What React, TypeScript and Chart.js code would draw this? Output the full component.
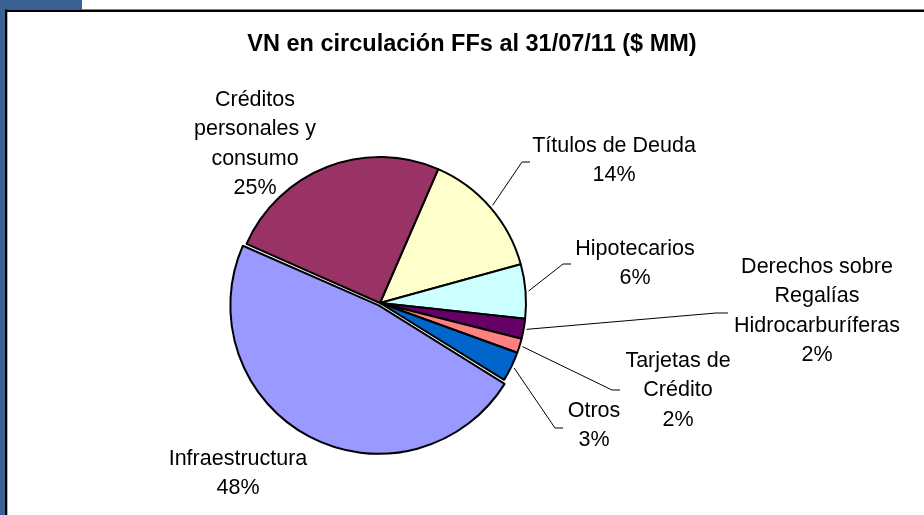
import React, { useEffect, useRef } from "react";
import { Chart, registerables } from "chart.js";

Chart.register(...registerables);

const TITLE = "VN en circulación FFs al 31/07/11 ($ MM)";

// Categories in clockwise order (starting just right of 12 o'clock)
const categories: string[][] = [
  ["Títulos de Deuda"],
  ["Hipotecarios"],
  ["Derechos sobre", "Regalías", "Hidrocarburíferas"],
  ["Tarjetas de", "Crédito"],
  ["Otros"],
  ["Infraestructura"],
  ["Créditos", "personales y", "consumo"],
];

// Share of outstanding nominal value (%)
const values: number[] = [14.2, 6.0, 2.2, 1.6, 3.3, 47.8, 24.9];

const colors: string[] = [
  "#FFFFCC",
  "#CCFFFF",
  "#660066",
  "#FF8080",
  "#0066CC",
  "#9999FF",
  "#993366",
];

const explode: number[] = [0, 0, 0, 0, 0, 11, 0];

// Label placement relative to pie centre (px): text centre x, first baseline y, leader elbow
const labelLayout = [
  { dx: 234, dy: -151, elbow: [142, -141] as number[] | null, tail: 8 },
  { dx: 255, dy: -48, elbow: [183, -39] as number[] | null, tail: 8 },
  { dx: 437, dy: -30, elbow: [336, 10] as number[] | null, tail: 12 },
  { dx: 298, dy: 64, elbow: [232, 87] as number[] | null, tail: 8 },
  { dx: 214, dy: 114, elbow: [175, 125] as number[] | null, tail: 8 },
  { dx: -142, dy: 162, elbow: null as number[] | null, tail: 0 },
  { dx: -125, dy: -197, elbow: null as number[] | null, tail: 0 },
];

const LABEL_FONT = '21.5px "Liberation Sans", Arial, sans-serif';
const TITLE_FONT = 'bold 23.5px "Liberation Sans", Arial, sans-serif';
const LINE_H = 29.3;

const framePlugin = {
  id: "frame",
  beforeDraw(chart: any) {
    const ctx = chart.ctx as CanvasRenderingContext2D;
    ctx.save();
    ctx.fillStyle = "#ffffff";
    ctx.fillRect(0, 0, chart.width, chart.height);
    ctx.fillStyle = "#3B6092";
    ctx.fillRect(0, 0, 82, 9.5);
    ctx.fillRect(0, 0, 5, chart.height);
    ctx.fillStyle = "#000000";
    ctx.fillRect(5, 9.5, chart.width - 5, 2.5);
    ctx.fillRect(5, 9.5, 2.3, chart.height - 9.5);
    ctx.restore();
  },
};

const labelPlugin = {
  id: "pieLabels",
  afterDraw(chart: any) {
    const ctx = chart.ctx as CanvasRenderingContext2D;
    const meta = chart.getDatasetMeta(0);
    const data = chart.data.datasets[0].data as number[];
    const total = data.reduce((a, b) => a + b, 0);
    ctx.save();
    meta.data.forEach((arc: any, i: number) => {
      const p = arc.getProps(["x", "y", "startAngle", "endAngle", "outerRadius"], true);
      const cx = p.x;
      const cy = p.y;
      const mid = (p.startAngle + p.endAngle) / 2;
      const lay = labelLayout[i];
      if (lay.elbow) {
        const r0 = p.outerRadius + 3;
        const sx = cx + Math.cos(mid) * r0;
        const sy = cy + Math.sin(mid) * r0;
        const ex = cx + lay.elbow[0];
        const ey = cy + lay.elbow[1];
        ctx.beginPath();
        ctx.strokeStyle = "#000";
        ctx.lineWidth = 1;
        ctx.moveTo(sx, sy);
        ctx.lineTo(ex, ey);
        ctx.lineTo(ex + lay.tail, ey);
        ctx.stroke();
      }
      const pct = Math.round((data[i] / total) * 100) + "%";
      const lines = [...categories[i], pct];
      ctx.font = LABEL_FONT;
      ctx.fillStyle = "#000";
      ctx.textAlign = "center";
      ctx.textBaseline = "alphabetic";
      lines.forEach((ln, k) => {
        ctx.fillText(ln, cx + lay.dx, cy + lay.dy + k * LINE_H);
      });
    });
    ctx.font = TITLE_FONT;
    ctx.fillStyle = "#000";
    ctx.textAlign = "center";
    ctx.textBaseline = "alphabetic";
    ctx.fillText(TITLE, 472, 51);
    ctx.restore();
  },
};

export default function App() {
  const ref = useRef<HTMLCanvasElement | null>(null);
  useEffect(() => {
    if (!ref.current) return;
    const chart = new Chart(ref.current, {
      type: "pie",
      data: {
        labels: categories.map((c) => c.join(" ")),
        datasets: [
          {
            data: values,
            backgroundColor: colors,
            borderColor: "#000000",
            borderWidth: 2,
            offset: explode,
          },
        ],
      },
      options: {
        responsive: false,
        animation: false,
        rotation: 23.5,
        radius: 146,
        layout: { padding: { left: 230, right: 394, top: 153, bottom: 62 } },
        plugins: {
          legend: { display: false },
          tooltip: { enabled: false },
          title: { display: false },
        },
      } as any,
      plugins: [framePlugin, labelPlugin],
    });
    return () => chart.destroy();
  }, []);
  return (
    <div style={{ position: "fixed", left: 0, top: 0, width: 924, height: 515 }}>
      <canvas ref={ref} width={924} height={515} style={{ display: "block" }} />
    </div>
  );
}
